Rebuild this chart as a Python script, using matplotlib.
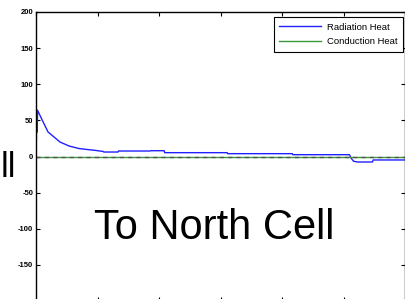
import matplotlib
matplotlib.use("Agg")
import matplotlib.pyplot as plt
import numpy as np

plt.rcParams["font.family"] = ["Liberation Sans", "DejaVu Sans"]

# time axis (hours), radiation heat
t_rad = [0.0, 0.03, 0.065, 0.08, 0.1, 0.3, 0.78, 1.56, 2.15, 2.8, 3.4, 3.84, 4.36,
         4.4, 5.33, 5.36, 7.41, 7.45, 8.33, 8.36, 12.42, 12.45, 16.65, 16.68,
         20.36, 20.45, 20.62, 20.88, 21.85, 21.9, 24.0]
q_rad = [0.0, 30.0, 64.0, 34.0, 64.0, 55.0, 34.0, 20.0, 14.5, 11.0, 9.5, 8.5, 7.0,
         6.2, 6.2, 7.6, 7.6, 8.0, 8.0, 5.3, 5.3, 3.9, 3.9, 2.5,
         2.5, -1.7, -6.5, -7.6, -7.6, -4.8, -4.8]
t_cond = [0.0, 24.0]
q_cond = [0.0, 0.0]

y_ticks = [200, 150, 100, 50, 0, -50, -100, -150, -200]
x_ticks = [0, 4, 8, 12, 16, 20, 24]

W, H = 405, 299
fig = plt.figure(figsize=(W / 100, H / 100), dpi=100)
# axes runs past the right and bottom edges of the picture
ax = fig.add_axes([36 / W, (H - 301) / H, 369.5 / W, 289 / H])

ax.plot(t_rad, q_rad, color="#2020ff", linewidth=1.0, label="Radiation Heat")
ax.plot(t_cond, q_cond, color="#3a9a3a", linewidth=1.0, label="Conduction Heat")
ax.plot(t_cond, q_cond, color="#555555", linewidth=1.0, linestyle=(0, (3, 3)))

ax.set_xlim(0, 24)
ax.set_ylim(-200, 200)
ax.set_xticks(x_ticks)
ax.set_yticks(y_ticks)
ax.set_xticklabels([])
ax.set_yticklabels([str(v) for v in y_ticks], fontsize=5.5, fontweight="bold")
ax.tick_params(direction="in", length=3, width=0.8, pad=2,
               top=True, right=True)
for s in ax.spines.values():
    s.set_linewidth(1.0)

leg = ax.legend(loc="upper right", bbox_to_anchor=(403 / W, 1 - 17 / H),
                bbox_transform=fig.transFigure, fontsize=6.8, fancybox=False,
                framealpha=1, edgecolor="black", handlelength=4.4,
                borderpad=0.6, labelspacing=0.6, handletextpad=0.6,
                borderaxespad=0)
leg.get_frame().set_linewidth(0.8)

fig.text(214 / W, 1 - 239 / H, "To North Cell", fontsize=30, ha="center",
         va="baseline")
fig.text(1 / W, 1 - 177 / H, "ll", fontsize=25, ha="left", va="baseline")

fig.savefig("out.png", dpi=100)
